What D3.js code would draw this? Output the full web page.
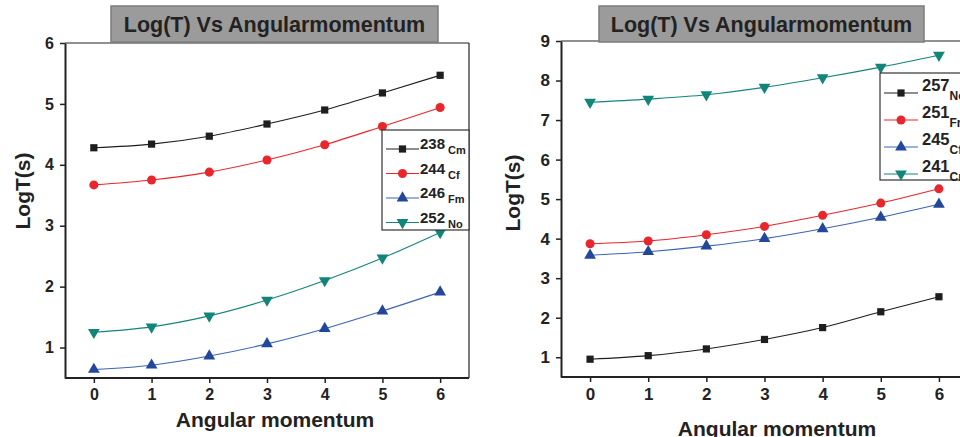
<!DOCTYPE html>
<html>
<head>
<meta charset="utf-8">
<script src="https://cdn.jsdelivr.net/npm/d3@7"></script>
<style>
  body { margin: 0; background: #fff; }
  svg { display: block; font-family: "Liberation Sans", Arial, sans-serif; font-weight: bold; }
</style>
</head>
<body>
<svg id="chart" width="960" height="437"></svg>
<script>
// angular momentum values on the x axis
const angular = [0, 1, 2, 3, 4, 5, 6]
const xTicks = [0, 1, 2, 3, 4, 5, 6]

// left panel series
const cm238 = [4.28, 4.34, 4.47, 4.67, 4.90, 5.18, 5.47]
const cf244 = [3.67, 3.75, 3.88, 4.08, 4.33, 4.63, 4.94]
const fm246 = [0.64, 0.71, 0.86, 1.06, 1.31, 1.60, 1.91]
const no252 = [1.25, 1.34, 1.52, 1.78, 2.10, 2.47, 2.89]
const leftTicks = [1, 2, 3, 4, 5, 6]

// right panel series
const no257 = [0.95, 1.04, 1.21, 1.45, 1.75, 2.15, 2.53]
const fm251 = [3.87, 3.94, 4.10, 4.31, 4.59, 4.90, 5.26]
const cf245 = [3.58, 3.67, 3.81, 4.00, 4.25, 4.54, 4.87]
const cm241 = [7.45, 7.53, 7.64, 7.83, 8.07, 8.34, 8.64]
const rightTicks = [1, 2, 3, 4, 5, 6, 7, 8, 9]

const titleText = "Log(T) Vs Angularmomentum"

const styles = {
  square:   {symbol: d3.symbolSquare,   size: 52, color: "#1e1e1e", line: "#1e1e1e"},
  circle:   {symbol: d3.symbolCircle,   size: 64, color: "#e8262b", line: "#e8262b"},
  triUp:    {symbol: d3.symbolTriangle, size: 60, color: "#23479b", line: "#3c64b4", rot: 0},
  triDown:  {symbol: d3.symbolTriangle, size: 60, color: "#12847a", line: "#12847a", rot: 180}
}

const svg = d3.select("#chart")

function drawPanel(p) {
  const g = svg.append("g")

  const x = d3.scaleLinear().domain([-0.5, 6.5]).range([p.left, p.right])
  const y = d3.scaleLinear().domain(p.yDomain).range([p.bottom, p.top])

  // frame (top and right)
  g.append("line")
    .attr("x1", p.left).attr("x2", p.frameRight)
    .attr("y1", p.top).attr("y2", p.top)
    .attr("stroke", "#222").attr("stroke-width", 1.2)
  if (p.frameRight < 960) {
    g.append("line")
      .attr("x1", p.frameRight).attr("x2", p.frameRight)
      .attr("y1", p.top).attr("y2", p.bottom)
      .attr("stroke", "#222").attr("stroke-width", 1.2)
  }

  const xAxis = g.append("g")
    .attr("transform", `translate(0,${p.bottom})`)
    .call(d3.axisBottom(x).tickValues(xTicks).tickFormat(d3.format("d"))
      .tickSize(5).tickSizeOuter(0).tickPadding(6))
  const yAxis = g.append("g")
    .attr("transform", `translate(${p.left},0)`)
    .call(d3.axisLeft(y).tickValues(p.yTicks).tickFormat(d3.format("d"))
      .tickSize(5).tickSizeOuter(0).tickPadding(6))

  ;[xAxis, yAxis].forEach(a => {
    a.select(".domain").attr("stroke", "#222").attr("stroke-width", 2)
    a.selectAll(".tick line").attr("stroke", "#222").attr("stroke-width", 1.5)
    a.selectAll(".tick text")
      .attr("fill", "#222")
      .style("font-size", p.tickSize + "px")
      .style("font-family", "Liberation Sans, Arial, sans-serif")
      .style("font-weight", "bold")
  })
  xAxis.select(".domain").attr("d", `M${p.left},0H${Math.min(p.frameRight, 960)}`)

  const line = d3.line()
    .x((d, i) => x(angular[i]))
    .y(d => y(d))
    .curve(d3.curveMonotoneX)

  p.series.forEach(s => {
    const st = styles[s.style]
    g.append("path")
      .attr("d", line(s.values))
      .attr("fill", "none")
      .attr("stroke", st.line)
      .attr("stroke-width", 1.1)
    g.selectAll(null)
      .data(s.values)
      .join("path")
      .attr("transform", (d, i) => `translate(${x(angular[i])},${y(d)}) rotate(${st.rot || 0})`)
      .attr("d", d3.symbol().type(st.symbol).size(st.size))
      .attr("fill", st.color)
  })

  // title box
  g.append("rect")
    .attr("x", p.titleX0).attr("y", 6)
    .attr("width", p.titleX1 - p.titleX0).attr("height", 36)
    .attr("fill", "#9b9b9b")
    .attr("stroke", "#7c7c7c").attr("stroke-width", 1.5)
  g.append("text")
    .attr("x", (p.titleX0 + p.titleX1) / 2).attr("y", 32)
    .attr("text-anchor", "middle")
    .attr("fill", "#222")
    .style("font-size", "21.5px")
    .text(titleText)

  // axis titles
  g.append("text")
    .attr("x", p.xLabelX).attr("y", p.xLabelY)
    .attr("text-anchor", "middle")
    .attr("fill", "#222")
    .style("font-size", "21px")
    .text("Angular momentum")
  g.append("text")
    .attr("transform", `translate(${p.yLabelX},${p.yLabelY}) rotate(-90)`)
    .attr("text-anchor", "middle")
    .attr("fill", "#222")
    .style("font-size", "21px")
    .text("LogT(s)")

  // legend
  const L = p.legend
  g.append("rect")
    .attr("x", L.x).attr("y", L.y)
    .attr("width", L.w).attr("height", L.h)
    .attr("fill", "#fff")
    .attr("stroke", "#333").attr("stroke-width", 1.2)

  p.series.forEach((s, i) => {
    const st = styles[s.style]
    const ry = L.y + L.first + i * L.step
    const row = g.append("g")
    row.append("line")
      .attr("x1", L.x + 4).attr("x2", L.x + L.lineW)
      .attr("y1", ry).attr("y2", ry)
      .attr("stroke", st.line).attr("stroke-width", 1.2)
    row.append("path")
      .attr("transform", `translate(${L.x + 4 + (L.lineW - 4) / 2},${ry}) rotate(${st.rot || 0})`)
      .attr("d", d3.symbol().type(st.symbol).size(st.size))
      .attr("fill", st.color)
    const t = row.append("text")
      .attr("x", L.x + L.textX).attr("y", ry + L.numDy)
      .attr("fill", "#222")
      .style("font-size", L.numSize + "px")
    t.append("tspan").text(s.mass)
    t.append("tspan")
      .attr("dx", L.subDx)
      .attr("dy", L.subDy)
      .style("font-size", L.subSize + "px")
      .text(s.el)
  })
}

drawPanel({
  left: 65, right: 469, frameRight: 469, top: 43, bottom: 378,
  yDomain: [0.5, 6], yTicks: leftTicks, tickSize: 16,
  titleX0: 111, titleX1: 438,
  xLabelX: 275, xLabelY: 427, yLabelX: 30, yLabelY: 191,
  series: [
    {mass: "238", el: "Cm", values: cm238, style: "square"},
    {mass: "244", el: "Cf", values: cf244, style: "circle"},
    {mass: "246", el: "Fm", values: fm246, style: "triUp"},
    {mass: "252", el: "No", values: no252, style: "triDown"}
  ],
  legend: {x: 382, y: 130, w: 87, h: 100, first: 19, step: 24.5, lineW: 37, textX: 38,
           numSize: 15, numDy: 0, subSize: 11, subDx: 3, subDy: 5}
})

drawPanel({
  left: 561, right: 968, frameRight: 975, top: 41, bottom: 377,
  yDomain: [0.5, 9], yTicks: rightTicks, tickSize: 17,
  titleX0: 599, titleX1: 924,
  xLabelX: 777, xLabelY: 436, yLabelX: 520, yLabelY: 193,
  series: [
    {mass: "257", el: "No", values: no257, style: "square"},
    {mass: "251", el: "Fm", values: fm251, style: "circle"},
    {mass: "245", el: "Cf", values: cf245, style: "triUp"},
    {mass: "241", el: "Cm", values: cm241, style: "triDown"}
  ],
  legend: {x: 880, y: 73, w: 100, h: 107, first: 20, step: 27, lineW: 38, textX: 42,
           numSize: 16.5, numDy: -2, subSize: 12, subDx: 0, subDy: 9}
})
</script>
</body>
</html>
